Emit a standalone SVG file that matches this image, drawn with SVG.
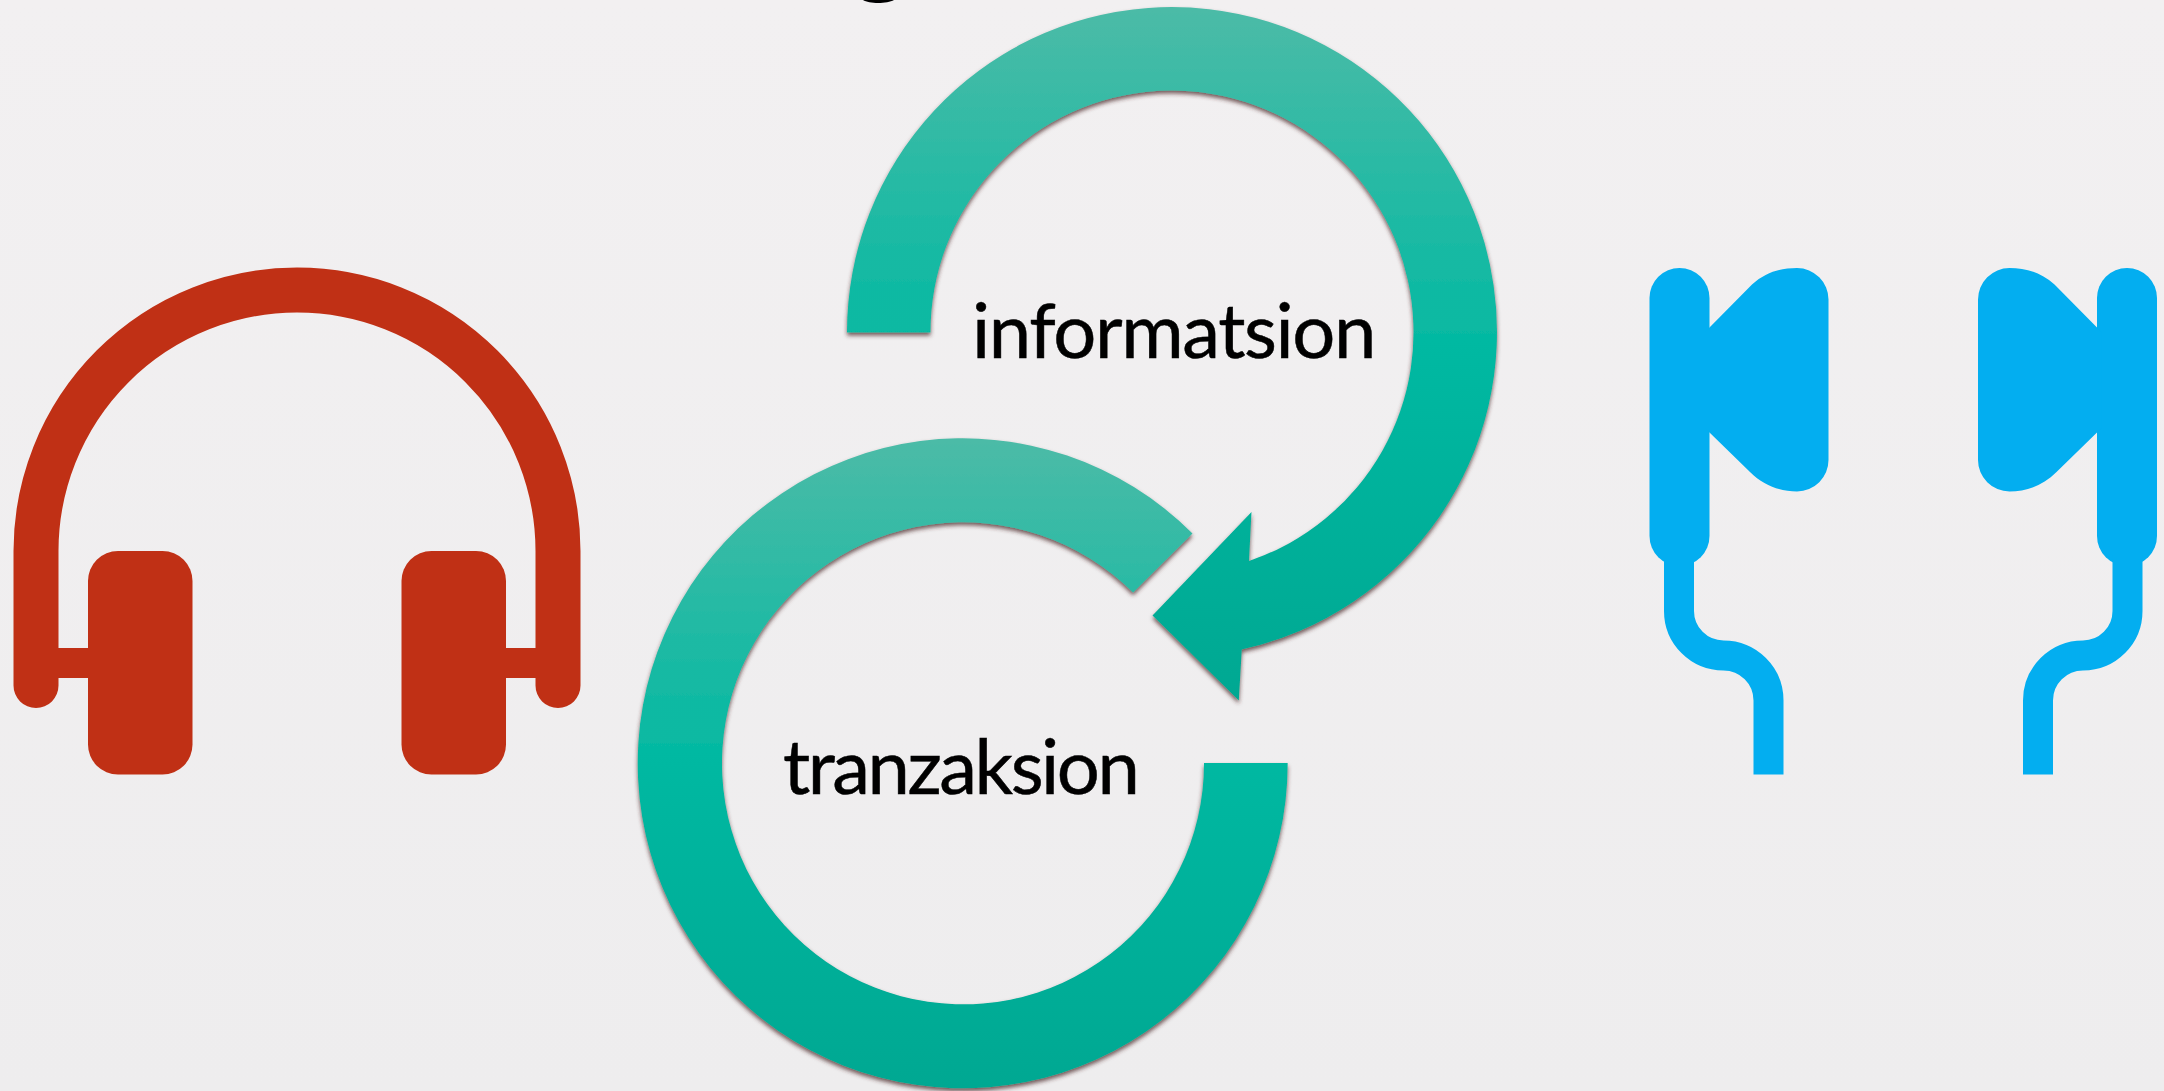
<svg xmlns="http://www.w3.org/2000/svg" width="2164" height="1091" viewBox="0 0 2164 1091">
<style>
.lbl{font-family:"Lato","Noto Sans",sans-serif;font-size:76px;fill:#000;stroke:#000;stroke-width:.5px}
.arc{fill:url(#teal);filter:url(#sh)}
.red{fill:#C03015}
.bud{fill:#03AEF0}
.cable{fill:none;stroke:#03AEF0;stroke-width:30}
</style>
<defs>
<linearGradient id="bg" x1="0" y1="0" x2="0" y2="1"><stop offset="0" stop-color="#F2F0F1"/><stop offset="1" stop-color="#EEEDEE"/></linearGradient>
<linearGradient id="teal" x1="0" y1="0" x2="0" y2="1"><stop offset="0" stop-color="#4CBBA7"/><stop offset=".48" stop-color="#05B9A2"/><stop offset="1" stop-color="#00A892"/></linearGradient>
<filter id="sh" x="-5%" y="-5%" width="110%" height="110%"><feDropShadow dx="0" dy="3" stdDeviation="2" flood-color="#4A2626" flood-opacity=".75"/></filter>
<g id="earbud">
<rect class="bud" x="1649.5" y="268" width="60" height="298" rx="30"/>
<path class="bud" d="M1705 332L1709.5 327.5L1752 284.5C1766 272 1781 268 1797 268A31.5 31.5 0 0 1 1828.5 299.5V460A31.5 31.5 0 0 1 1797 491.5C1781 491.5 1764 486 1750 472L1709.5 432.5L1705 428Z"/>
<path class="cable" d="M1679 555V611A44.5 44.5 0 0 0 1723.5 655.5A45 45 0 0 1 1768.5 700.5V774.5"/>
</g>
</defs>
<rect id="background" width="2164" height="1091" fill="url(#bg)"/>
<path id="clipped-glyph" d="M863 0C869 4 887 4 894 0Z" fill="#000"/>
<g id="headphones">
<path d="M36 685.5V551A261 261 0 0 1 558 551V685.5" fill="none" stroke="#C03015" stroke-width="45" stroke-linecap="round"/>
<rect class="red" x="50" y="648" width="45" height="30"/>
<rect class="red" x="500" y="648" width="45" height="30"/>
<rect class="red" x="88" y="551" width="104.5" height="223.5" rx="30"/>
<rect class="red" x="401.5" y="551" width="104.5" height="223.5" rx="30"/>
</g>
<g id="connectors">
<path id="arrow-informatsion" class="arc" d="M847 332.5A325 325 0 1 1 1241.8 649.5L1238.8 700.4L1152.5 615.6L1251.5 512L1249 561A241.5 241.5 0 1 0 930.5 332.5Z"/>
<path id="arrow-tranzaksion" class="arc" d="M1192.5 533.5A325 325 0 1 0 1287.7 763H1204A241 241 0 1 1 1133.1 592.6Z"/>
</g>
<g id="node-informatsion"><text class="lbl" x="972" y="358" letter-spacing="-1.4">informatsion</text></g>
<g id="node-tranzaksion"><text class="lbl" x="783" y="794" letter-spacing="-2.5">tranzaksion</text></g>
<g id="earbud-left"><use href="#earbud"/></g>
<g id="earbud-right"><use href="#earbud" transform="translate(3806.5 0) scale(-1 1)"/></g>
</svg>
